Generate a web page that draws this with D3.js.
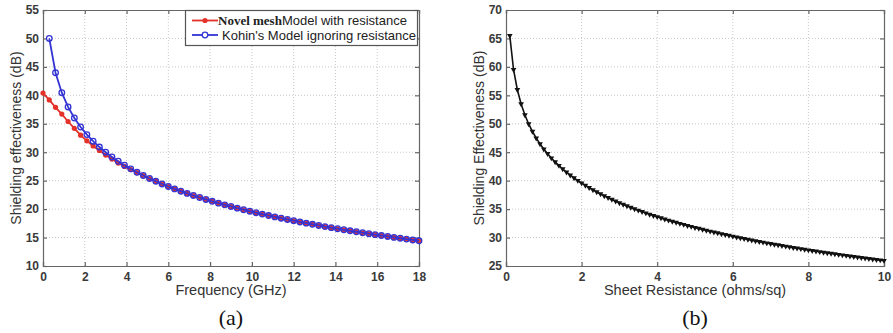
<!DOCTYPE html>
<html>
<head>
<meta charset="utf-8">
<script src="https://cdn.jsdelivr.net/npm/d3@7"></script>
<style>
  body { margin: 0; background: #fff; }
  svg { display: block; }
  text { font-family: "Liberation Sans", Arial, sans-serif; }
</style>
</head>
<body>
<div id="chart"></div>
<script>
// Panel (a): shielding effectiveness vs frequency
const freqTicks = [0, 2, 4, 6, 8, 10, 12, 14, 16, 18];
const seTicksA = [10, 15, 20, 25, 30, 35, 40, 45, 50, 55];

// frequency samples in GHz (0.3 GHz step)
const freqNovel = [0, 0.3, 0.6, 0.9, 1.2, 1.5, 1.8, 2.1, 2.4, 2.7, 3.0, 3.3, 3.6, 3.9, 4.2, 4.5, 4.8, 5.1, 5.4, 5.7,
  6.0, 6.3, 6.6, 6.9, 7.2, 7.5, 7.8, 8.1, 8.4, 8.7, 9.0, 9.3, 9.6, 9.9, 10.2, 10.5, 10.8, 11.1, 11.4, 11.7,
  12.0, 12.3, 12.6, 12.9, 13.2, 13.5, 13.8, 14.1, 14.4, 14.7, 15.0, 15.3, 15.6, 15.9, 16.2, 16.5, 16.8, 17.1, 17.4, 17.7, 18.0];
const seNovel = [40.4, 39.2, 37.9, 36.7, 35.4, 34.2, 33.0, 32.0, 31.1, 30.3, 29.5, 28.8, 28.1, 27.5, 26.95, 26.4, 25.87, 25.36, 24.87, 24.4,
  23.96, 23.54, 23.14, 22.75, 22.38, 22.03, 21.69, 21.36, 21.04, 20.74, 20.45, 20.16, 19.88, 19.62, 19.36, 19.11, 18.86, 18.62, 18.39, 18.17,
  17.95, 17.73, 17.52, 17.32, 17.12, 16.92, 16.73, 16.55, 16.36, 16.18, 16.01, 15.84, 15.67, 15.5, 15.34, 15.18, 15.02, 14.87, 14.72, 14.57, 14.42];

const freqKohin = freqNovel.slice(1);
const seKohin = [50.0, 43.98, 40.46, 37.96, 36.02, 34.43, 33.1, 31.94, 30.91, 30.0, 29.17, 28.41, 27.72, 27.08, 26.48, 25.92, 25.39, 24.89, 24.42,
  23.98, 23.55, 23.15, 22.76, 22.39, 22.04, 21.7, 21.37, 21.05, 20.75, 20.46, 20.17, 19.89, 19.63, 19.37, 19.12, 18.87, 18.63, 18.4, 18.18,
  17.96, 17.74, 17.53, 17.33, 17.13, 16.93, 16.74, 16.56, 16.37, 16.19, 16.02, 15.85, 15.68, 15.51, 15.35, 15.19, 15.03, 14.88, 14.73, 14.58, 14.43];

// Panel (b): shielding effectiveness vs sheet resistance
const resTicks = [0, 2, 4, 6, 8, 10];
const seTicksB = [25, 30, 35, 40, 45, 50, 55, 60, 65, 70];
// sampling grid 0.1 .. 10 ohms/sq, step 0.1
const resValues = d3.range(1, 101).map(i => i / 10);
const seSheet = [65.51, 59.5, 55.98, 53.48, 51.55, 49.97, 48.64, 47.48, 46.46, 45.55,
  44.73, 43.98, 43.29, 42.65, 42.05, 41.5, 40.97, 40.48, 40.02, 39.58,
  39.16, 38.76, 38.38, 38.01, 37.66, 37.33, 37.0, 36.69, 36.39, 36.1,
  35.82, 35.55, 35.29, 35.03, 34.79, 34.54, 34.31, 34.08, 33.86, 33.65,
  33.44, 33.23, 33.03, 32.84, 32.65, 32.46, 32.28, 32.1, 31.93, 31.75,
  31.59, 31.42, 31.26, 31.1, 30.95, 30.8, 30.65, 30.5, 30.36, 30.22,
  30.08, 29.94, 29.8, 29.67, 29.54, 29.41, 29.29, 29.16, 29.04, 28.92,
  28.8, 28.69, 28.57, 28.46, 28.34, 28.23, 28.12, 28.02, 27.91, 27.8,
  27.7, 27.6, 27.5, 27.4, 27.3, 27.2, 27.11, 27.01, 26.92, 26.83,
  26.73, 26.64, 26.56, 26.47, 26.38, 26.29, 26.21, 26.12, 26.04, 25.96];

const W = 893, H = 333;
const svg = d3.select("#chart").append("svg")
  .attr("width", W)
  .attr("height", H);

const red = "#e4322a";
const blue = "#3434d4";

// draws a MATLAB-style boxed axes with dotted grid, returns scales
function makeAxes(box, xDomain, yDomain, xTicks, yTicks, xLabel, yLabel, yLabelX, caption) {
  const x = d3.scaleLinear().domain(xDomain).range([box.left, box.right]);
  const y = d3.scaleLinear().domain(yDomain).range([box.bottom, box.top]);
  const g = svg.append("g");

  // grid
  g.selectAll(".gx").data(xTicks.slice(1, -1)).enter().append("line")
    .attr("x1", d => x(d)).attr("x2", d => x(d))
    .attr("y1", box.top).attr("y2", box.bottom)
    .attr("stroke", "#c8c8c8").attr("stroke-dasharray", "1,2");
  g.selectAll(".gy").data(yTicks.slice(1, -1)).enter().append("line")
    .attr("y1", d => y(d)).attr("y2", d => y(d))
    .attr("x1", box.left).attr("x2", box.right)
    .attr("stroke", "#c8c8c8").attr("stroke-dasharray", "1,2");

  // axes, ticks pointing inward like matlab
  const xAxis = d3.axisBottom(x).tickValues(xTicks).tickSize(-4).tickPadding(6).tickFormat(d3.format("d"));
  const yAxis = d3.axisLeft(y).tickValues(yTicks).tickSize(-4).tickPadding(4).tickFormat(d3.format("d"));
  const gx = g.append("g").attr("transform", `translate(0,${box.bottom})`).call(xAxis);
  const gy = g.append("g").attr("transform", `translate(${box.left},0)`).call(yAxis);
  g.append("g").attr("transform", `translate(0,${box.top})`)
    .call(d3.axisTop(x).tickValues(xTicks).tickSize(-4).tickFormat(""));
  g.append("g").attr("transform", `translate(${box.right},0)`)
    .call(d3.axisRight(y).tickValues(yTicks).tickSize(-4).tickFormat(""));
  g.selectAll(".domain, .tick line").attr("stroke", "#666").attr("stroke-width", 1.2);
  [gx, gy].forEach(a => a.selectAll("text")
    .style("font-family", "'Liberation Sans', Arial, sans-serif")
    .style("font-size", "12px")
    .style("font-weight", "bold")
    .attr("fill", "#3a3a3a"));

  g.append("text")
    .attr("x", (box.left + box.right) / 2)
    .attr("y", box.bottom + 29)
    .attr("text-anchor", "middle")
    .style("font-size", "14.5px")
    .attr("fill", "#333")
    .text(xLabel);
  g.append("text")
    .attr("transform", `translate(${yLabelX},${(box.top + box.bottom) / 2}) rotate(-90)`)
    .attr("text-anchor", "middle")
    .style("font-size", "14px")
    .attr("fill", "#333")
    .text(yLabel);
  g.append("text")
    .attr("x", (box.left + box.right) / 2)
    .attr("y", 325)
    .attr("text-anchor", "middle")
    .style("font-family", "'Liberation Serif', 'Times New Roman', serif")
    .style("font-size", "22px")
    .attr("fill", "#111")
    .text(caption);
  return { x, y, g };
}

// ---- panel (a)
const a = makeAxes({ left: 43, right: 419, top: 10, bottom: 266 }, [0, 18], [10, 55],
  freqTicks, seTicksA, "Frequency (GHz)", "Shielding effectiveness (dB)", 21, "(a)");

const novelPts = freqNovel.map((f, i) => [f, seNovel[i]]);
const kohinPts = freqKohin.map((f, i) => [f, seKohin[i]]);
const lineA = d3.line().x(d => a.x(d[0])).y(d => a.y(d[1]));

a.g.append("path").datum(novelPts).attr("d", lineA)
  .attr("fill", "none").attr("stroke", red).attr("stroke-width", 1.8);
a.g.selectAll(".dn").data(novelPts).enter().append("circle")
  .attr("cx", d => a.x(d[0])).attr("cy", d => a.y(d[1])).attr("r", 2.6)
  .attr("fill", red);

a.g.append("path").datum(kohinPts).attr("d", lineA)
  .attr("fill", "none").attr("stroke", blue).attr("stroke-width", 1.8);
a.g.selectAll(".dk").data(kohinPts).enter().append("circle")
  .attr("cx", d => a.x(d[0])).attr("cy", d => a.y(d[1])).attr("r", 2.8)
  .attr("fill", "none").attr("stroke", blue).attr("stroke-width", 1.3);

// legend
const leg = a.g.append("g");
leg.append("rect").attr("x", 185.5).attr("y", 10.5).attr("width", 232).attr("height", 35)
  .attr("fill", "#fff").attr("stroke", "#555").attr("stroke-width", 1.2);
const legRows = [
  { y: 20.5, color: red, filled: true },
  { y: 35, color: blue, filled: false }
];
legRows.forEach(r => {
  leg.append("line").attr("x1", 192).attr("x2", 218).attr("y1", r.y).attr("y2", r.y)
    .attr("stroke", r.color).attr("stroke-width", 1.8);
  leg.append("circle").attr("cx", 205).attr("cy", r.y).attr("r", r.filled ? 2.6 : 2.8)
    .attr("fill", r.filled ? r.color : "#fff").attr("stroke", r.color).attr("stroke-width", r.filled ? 0 : 1.3);
});
const t1 = leg.append("text").attr("x", 218).attr("y", 25).style("font-size", "13px").attr("fill", "#222");
t1.append("tspan").style("font-family", "'Liberation Serif', 'Times New Roman', serif")
  .style("font-weight", "bold").text("Novel mesh");
t1.append("tspan").text("Model with resistance");
leg.append("text").attr("x", 222).attr("y", 39.5).style("font-size", "13px").attr("fill", "#222")
  .text("Kohin's Model ignoring resistance");

// ---- panel (b)
const b = makeAxes({ left: 506, right: 884, top: 10, bottom: 266 }, [0, 10], [25, 70],
  resTicks, seTicksB, "Sheet Resistance (ohms/sq)", "Shielding Effectiveness (dB)", 484, "(b)");

const sheetPts = resValues.map((r, i) => [r, seSheet[i]]);
b.g.append("path").datum(sheetPts)
  .attr("d", d3.line().x(d => b.x(d[0])).y(d => b.y(d[1])))
  .attr("fill", "none").attr("stroke", "#111").attr("stroke-width", 1.6);
b.g.selectAll(".ds").data(sheetPts).enter().append("path")
  .attr("transform", d => `translate(${b.x(d[0])},${b.y(d[1])}) rotate(180)`)
  .attr("d", d3.symbol().type(d3.symbolTriangle).size(14))
  .attr("fill", "#111");
</script>
</body>
</html>
